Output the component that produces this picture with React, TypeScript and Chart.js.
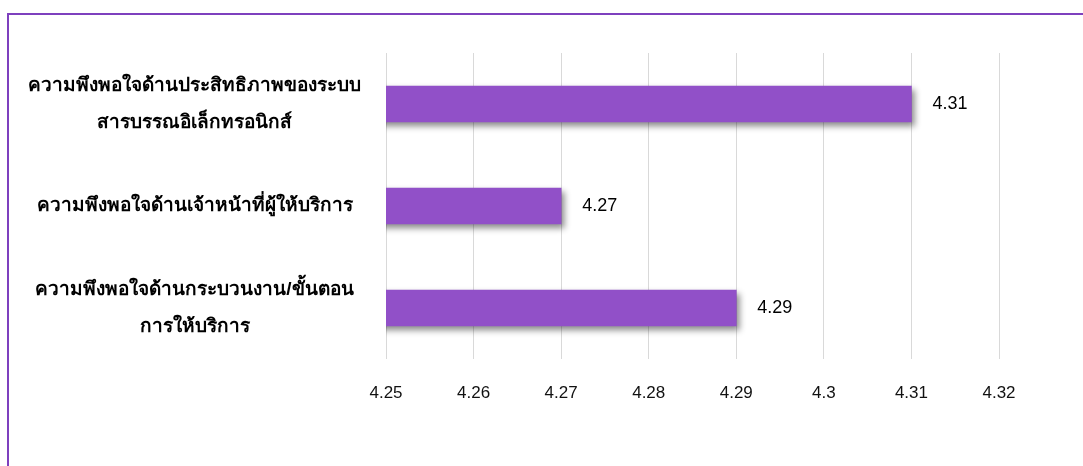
import React, { useEffect, useRef } from "react";
import { Chart, registerables } from "chart.js";

Chart.register(...registerables);

const categories: string[][] = [
  ["ความพึงพอใจด้านประสิทธิภาพของระบบ", "สารบรรณอิเล็กทรอนิกส์"],
  ["ความพึงพอใจด้านเจ้าหน้าที่ผู้ให้บริการ"],
  ["ความพึงพอใจด้านกระบวนงาน/ขั้นตอน", "การให้บริการ"],
];
const values: number[] = [4.31, 4.27, 4.29];
const valueLabels: string[] = ["4.31", "4.27", "4.29"];
const xTickLabels: string[] = ["4.25", "4.26", "4.27", "4.28", "4.29", "4.3", "4.31", "4.32"];
const xMin = 4.25;
const xMax = 4.32;
const xStep = 0.01;

const FONT = "Tahoma, 'Liberation Sans', 'DejaVu Sans', sans-serif";

const shadowPlugin = {
  id: "barShadow",
  beforeDatasetsDraw(chart: any) {
    const ctx = chart.ctx;
    ctx.save();
    ctx.shadowColor = "rgba(0,0,0,0.45)";
    ctx.shadowBlur = 6;
    ctx.shadowOffsetX = 3;
    ctx.shadowOffsetY = 4;
  },
  afterDatasetsDraw(chart: any) {
    const ctx = chart.ctx;
    ctx.restore();
    const meta = chart.getDatasetMeta(0);
    ctx.save();
    ctx.font = `18px ${FONT}`;
    ctx.fillStyle = "#000000";
    ctx.textAlign = "left";
    ctx.textBaseline = "middle";
    meta.data.forEach((bar: any, i: number) => {
      ctx.fillText(valueLabels[i], bar.x + 21, bar.y);
    });
    ctx.restore();
  },
};

export default function App() {
  const ref = useRef<HTMLCanvasElement | null>(null);
  useEffect(() => {
    if (!ref.current) return;
    const chart = new Chart(ref.current, {
      type: "bar",
      data: {
        labels: categories,
        datasets: [
          {
            data: values,
            backgroundColor: "#9150C8",
            borderWidth: 0,
            barThickness: 36,
          },
        ],
      },
      options: {
        indexAxis: "y",
        responsive: false,
        animation: false,
        maintainAspectRatio: false,
        layout: { padding: { left: 20, right: 84, top: 53, bottom: 47 } },
        plugins: {
          legend: { display: false },
          tooltip: { enabled: false },
        },
        scales: {
          x: {
            min: xMin,
            max: xMax,
            afterFit: (s: any) => {
              s.height = 60;
              s.paddingLeft = 0;
              s.paddingRight = 0;
            },
            afterBuildTicks: (s: any) => {
              s.ticks = xTickLabels.map((_, i) => ({ value: xMin + i * xStep }));
            },
            ticks: {
              stepSize: xStep,
              padding: 24,
              color: "#111111",
              font: { family: FONT, size: 17 },
              callback: (_v: any, i: number) => xTickLabels[i],
            },
            grid: { color: "#D9D9D9", lineWidth: 1, drawTicks: false },
            border: { display: false },
          },
          y: {
            afterFit: (s: any) => {
              s.width = 366;
              s.paddingTop = 0;
              s.paddingBottom = 0;
            },
            ticks: {
              padding: 17,
              crossAlign: "center",
              color: "#000000",
              font: { family: FONT, size: 19, weight: "bold", lineHeight: 1.95 },
            },
            grid: { display: false },
            border: { display: false },
          },
        },
      },
      plugins: [shadowPlugin],
    });
    return () => chart.destroy();
  }, []);

  return (
    <div style={{ position: "fixed", left: 0, top: 0, width: 1083, height: 466, overflow: "hidden", background: "#fff" }}>
      <div
        style={{
          position: "absolute",
          left: 7,
          top: 13,
          width: 1100,
          height: 480,
          border: "2px solid #7E40BE",
          boxSizing: "border-box",
        }}
      />
      <canvas ref={ref} width={1083} height={466} style={{ position: "absolute", left: 0, top: 0, width: 1083, height: 466 }} />
    </div>
  );
}
